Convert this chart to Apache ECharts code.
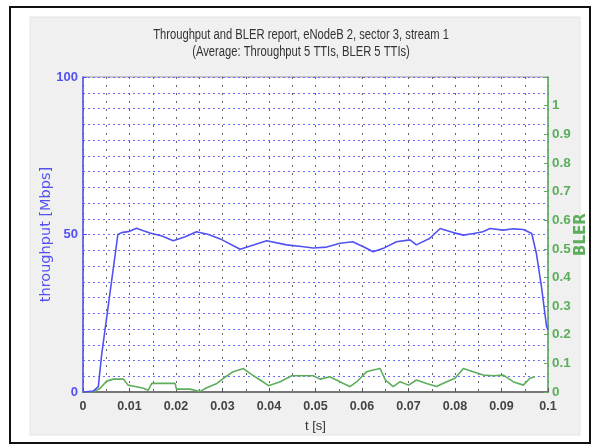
<!DOCTYPE html>
<html>
<head>
<meta charset="utf-8">
<script src="https://cdn.jsdelivr.net/npm/echarts@6/dist/echarts.min.js"></script>
<style>
html,body{margin:0;padding:0;background:#fff;overflow:hidden;width:593px;height:446px;}
#c{position:fixed;left:0;top:0;width:593px;height:446px;}
</style>
</head>
<body>
<div id="c"></div>
<script>
// ---- data ----
const titleLines = ['Throughput and BLER report, eNodeB 2, sector 3, stream 1', '(Average: Throughput 5 TTIs, BLER 5 TTIs)'];
const xName = 't [s]';
const leftName = 'throughput [Mbps]';
const rightName = 'BLER';

const tTput = [0, 0.0022, 0.0033, 0.004, 0.0075, 0.0083, 0.0100, 0.0115, 0.0130, 0.0144, 0.0170, 0.0194, 0.0220, 0.0244, 0.0270, 0.0295, 0.0338, 0.0370, 0.0395, 0.0438, 0.0470, 0.0495, 0.0524, 0.0553, 0.0580, 0.0603, 0.0624, 0.0646, 0.0674, 0.0703, 0.0717, 0.0746, 0.0768, 0.0796, 0.0818, 0.0840, 0.0860, 0.0875, 0.0904, 0.0925, 0.0947, 0.0965, 0.0975, 0.0986, 0.0997, 0.1];
const tput  = [0, 0.3, 1.7, 11.7, 50, 50.6, 51.0, 52, 51.2, 50.5, 49.5, 48, 49.3, 50.9, 50.0, 48.6, 45.3, 46.8, 48, 46.7, 46.2, 45.7, 46, 47.2, 47.7, 46.1, 44.5, 45.6, 47.7, 48.3, 46.7, 48.8, 51.9, 50.6, 49.8, 50.3, 50.9, 51.9, 51.4, 51.8, 51.6, 50.3, 44, 33.4, 20.7, 19.7];

const tBler = [0, 0.0025, 0.0037, 0.0051, 0.0065, 0.0087, 0.0097, 0.0112, 0.013, 0.014, 0.0148, 0.0198, 0.0201, 0.023, 0.0252, 0.0266, 0.0288, 0.0302, 0.0323, 0.0345, 0.0359, 0.0381, 0.0399, 0.0424, 0.0449, 0.0495, 0.051, 0.0531, 0.056, 0.0574, 0.0589, 0.061, 0.0624, 0.0639, 0.065, 0.0667, 0.0682, 0.07, 0.0717, 0.0739, 0.076, 0.0782, 0.08, 0.0818, 0.0839, 0.0861, 0.0882, 0.0904, 0.0925, 0.0947, 0.0961, 0.0972];
const bler  = [0, 0.002, 0.013, 0.038, 0.045, 0.045, 0.024, 0.019, 0.013, 0.006, 0.03, 0.03, 0.01, 0.01, 0.002, 0.015, 0.03, 0.048, 0.071, 0.082, 0.065, 0.042, 0.022, 0.036, 0.057, 0.057, 0.045, 0.053, 0.03, 0.019, 0.036, 0.071, 0.077, 0.082, 0.042, 0.019, 0.036, 0.024, 0.042, 0.03, 0.019, 0.036, 0.048, 0.082, 0.071, 0.059, 0.057, 0.059, 0.036, 0.024, 0.048, 0.053];

const xTicks = [0, 0.1, 0.01];      // min, max, interval
const leftTicks = [0, 100, 50];
const rightTicks = [0, 1.1, 0.1];

const blue = '#5252f2';
const green = '#5cae5c';
const sans = "'Liberation Sans', Arial, sans-serif";

const chart = echarts.init(document.getElementById('c'), null, {renderer: 'canvas', width: 593, height: 446});
chart.setOption({
  backgroundColor: '#fff',
  animation: false,
  graphic: [
    {type: 'rect', z: -100, shape: {x: 10, y: 7, width: 580, height: 436}, style: {fill: '#fff', stroke: '#111', lineWidth: 2}},
    {type: 'rect', z: -99, shape: {x: 30, y: 17, width: 550, height: 418}, style: {fill: '#f0f0f0', stroke: '#e4e4e4', lineWidth: 1}},
    {type: 'text', x: 301, y: 35, scaleX: 0.8, z: 10,
      style: {text: titleLines[0], fill: '#333', font: "14px " + sans, textAlign: 'center', textVerticalAlign: 'middle'}},
    {type: 'text', x: 301, y: 52, scaleX: 0.8, z: 10,
      style: {text: titleLines[1], fill: '#333', font: "14px " + sans, textAlign: 'center', textVerticalAlign: 'middle'}}
  ],
  grid: {left: 83, right: 45, top: 77, bottom: 54, show: true, containLabel: false, outerBoundsMode: 'none',
    backgroundColor: '#fff', borderColor: '#999', borderWidth: 1},
  xAxis: {
    type: 'value', min: xTicks[0], max: xTicks[1], interval: xTicks[2],
    name: xName, nameLocation: 'middle', nameGap: 28, nameMoveOverlap: false,
    nameTextStyle: {fontFamily: sans, fontSize: 13, color: '#333'},
    axisLine: {show: true, lineStyle: {color: '#777', width: 2}},
    axisTick: {show: true, inside: true, length: 4, lineStyle: {color: '#555'}},
    axisLabel: {fontFamily: sans, fontSize: 12.5, fontWeight: 'bold', color: '#444', margin: 8,
      formatter: v => String(+v.toFixed(2))},
    splitLine: {show: true, lineStyle: {color: '#666', type: [2, 6], width: 1}},
    minorTick: {show: false, splitNumber: 2},
    minorSplitLine: {show: true, lineStyle: {color: '#666', type: [2, 6], width: 1}}
  },
  yAxis: [
    {
      type: 'value', position: 'left', min: leftTicks[0], max: leftTicks[1], interval: leftTicks[2],
      name: leftName, nameLocation: 'middle', nameGap: 29, nameRotate: 90, nameMoveOverlap: false,
      nameTextStyle: {fontFamily: "'DejaVu Sans', sans-serif", fontSize: 14.5, color: blue},
      axisLine: {show: true, lineStyle: {color: blue, width: 1.5}},
      axisTick: {show: true, inside: true, length: 4, lineStyle: {color: blue}},
      axisLabel: {fontFamily: sans, fontSize: 13, fontWeight: 'bold', color: blue, margin: 5},
      splitLine: {show: true, lineStyle: {color: '#6b6bff', type: [2, 3], width: 1.2}},
      minorTick: {show: false, splitNumber: 10},
      minorSplitLine: {show: true, lineStyle: {color: '#6b6bff', type: [2, 3], width: 1.2}}
    },
    {
      type: 'value', position: 'right', min: rightTicks[0], max: rightTicks[1], interval: rightTicks[2],
      name: rightName, nameLocation: 'middle', nameGap: 26, nameRotate: 90, nameMoveOverlap: false,
      nameTextStyle: {fontFamily: "'DejaVu Sans', sans-serif", fontSize: 15, fontWeight: 'bold', color: green},
      axisLine: {show: true, lineStyle: {color: green, width: 1.5}},
      axisTick: {show: true, inside: true, length: 4, lineStyle: {color: green}},
      axisLabel: {fontFamily: sans, fontSize: 13.5, fontWeight: 'bold', color: green, margin: 4,
        formatter: v => (v > 1.05 ? '' : String(+v.toFixed(1)))},
      splitLine: {show: false}
    }
  ],
  series: [
    {
      type: 'line', yAxisIndex: 0, showSymbol: false, symbol: 'none',
      data: tTput.map((t, i) => [t, tput[i]]),
      lineStyle: {color: blue, width: 1.6}, z: 5
    },
    {
      type: 'line', yAxisIndex: 1, showSymbol: false, symbol: 'none',
      data: tBler.map((t, i) => [t, bler[i]]),
      lineStyle: {color: green, width: 1.6}, z: 4
    }
  ]
});
</script>
</body>
</html>
